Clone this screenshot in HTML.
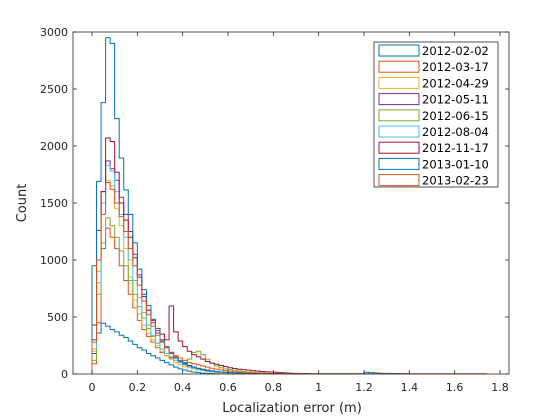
<!DOCTYPE html>
<html><head><meta charset="utf-8"><style>
body{margin:0;background:#fff;}
svg{display:block;font-family:"DejaVu Sans","Liberation Sans",sans-serif;}
</style></head><body>
<svg id="chart" width="560" height="420">
<rect x="0" y="0" width="560" height="420" fill="#fff"/>
<g id="plot"></g>
<rect x="73" y="32" width="436" height="342" fill="none" stroke="#262626" stroke-width="0.8"/>
<g id="axes"></g>
<text x="292" y="412" text-anchor="middle" font-size="13" fill="#262626">Localization error (m)</text>
<text transform="translate(26,203) rotate(-90)" text-anchor="middle" font-size="13" fill="#262626">Count</text>
<g id="legend"></g>
</svg>
<script>
const labels=["2012-02-02","2012-03-17","2012-04-29","2012-05-11","2012-06-15","2012-08-04","2012-11-17","2013-01-10","2013-02-23"];
const colors=["#0072BD","#D95319","#EDB120","#7E2F8E","#77AC30","#4DBEEE","#A2142F","#0072BD","#D95319"];
const binWidth=0.02;
const s1=[180,360,445,420,390,370,340,320,290,260,230,210,180,160,140,120,100,80,60,45,35,25,18,12,8,5,3,2];
const s2=[90,450,1100,1280,1200,1100,950,820,700,580,470,390,330,280,230,190,160,140,120,100,85,70,60,50,42,35,28,22,18,14,10,8,6,5,4,3];
const s3=[200,900,1500,1700,1650,1450,1300,1100,850,650,530,430,360,300,250,200,160,130,100,80,65,55,45,35,28,22,17,13,10,8,6,4];
const s4=[300,1000,1600,1870,1800,1700,1550,1400,1250,1050,870,700,560,450,360,290,230,180,140,110,90,75,60,48,38,30,24,20,16,12,10,8,6,5,4,3];
const s5=[120,700,1150,1370,1300,1200,1080,950,820,700,590,490,400,330,270,220,180,150,120,105,100,130,190,200,170,130,95,70,55,45,38,32,26,22,18,15,12,10,8,6,5,4];
const s6=[220,800,1500,1830,1780,1600,1400,1200,1000,820,670,540,430,340,270,220,180,150,120,100,80,65,52,42,34,27,22,18,14,11,9,7,5,4];
const s7=[430,1260,1600,2070,2040,1770,1500,1350,1200,1020,850,680,560,470,400,350,300,596,370,290,240,200,170,150,130,110,95,85,75,65,55,48,42,38,34,30,26,22,20,18,15,12,10,8,6,5,4,3];
const s8=[950,1690,2380,2950,2900,2240,1895,1615,1400,1150,920,740,600,480,380,300,240,190,150,120,95,75,60,48,40,32,26,22,18,15,12,10,9,8,7,6,5,5,4,4,3,3,3,2,2,2,2,2,2,2,2,2,2,2,2,2,2,2,2,2,15,12,10,8,6,5,4,4,3,2];
const s9=[280,1000,1400,1680,1620,1500,1380,1250,1100,950,780,640,520,420,340,280,230,190,160,140,120,100,90,80,70,60,50,42,36,30,25,20,16,12,10,8,6,5,4,3,3,2,2,2,2,2,2,2,2,2,2,2,2,2,2,2,2,2,2,2,2,2,2,2,2,2,2,2,2,2,2,2,2,2,2,2,2,2,2,2,2,2,2,2,2,2,2];
const series=[s1,s2,s3,s4,s5,s6,s7,s8,s9];
const xTicks=[0,0.2,0.4,0.6,0.8,1,1.2,1.4,1.6,1.8];
const xTickLabels=["0","0.2","0.4","0.6","0.8","1","1.2","1.4","1.6","1.8"];
const yTicks=[0,500,1000,1500,2000,2500,3000];

const NS="http://www.w3.org/2000/svg";
const X=v=>92+v*(408/1.8);
const Y=v=>374-v*(342/3000);
const plot=document.getElementById('plot');
series.forEach((d,i)=>{
  let p="M"+X(0)+","+Y(0);
  d.forEach((v,k)=>{p+=" L"+X(k*binWidth)+","+Y(v)+" L"+X((k+1)*binWidth)+","+Y(v);});
  p+=" L"+X(d.length*binWidth)+","+Y(0);
  const el=document.createElementNS(NS,'path');
  el.setAttribute('d',p);el.setAttribute('fill','none');el.setAttribute('stroke',colors[i]);el.setAttribute('stroke-width','1');
  
  
  plot.appendChild(el);
});
const axes=document.getElementById('axes');
function line(x1,y1,x2,y2,name){const l=document.createElementNS(NS,'line');l.setAttribute('x1',x1);l.setAttribute('y1',y1);l.setAttribute('x2',x2);l.setAttribute('y2',y2);l.setAttribute('stroke','#262626');l.setAttribute('stroke-width','0.8');


axes.appendChild(l);}
function text(x,y,s,anchor,name){const t=document.createElementNS(NS,'text');t.setAttribute('x',x);t.setAttribute('y',y);t.setAttribute('text-anchor',anchor);t.setAttribute('font-size','11');t.setAttribute('fill','#262626');t.textContent=s;


axes.appendChild(t);}
xTicks.forEach((v,i)=>{const x=X(v);line(x,374,x,370,'x-tick');line(x,32,x,36,'x-tick-top');text(x,391,xTickLabels[i],'middle','x-tick-label');});
yTicks.forEach(v=>{const y=Y(v);line(73,y,77,y,'y-tick');line(509,y,505,y,'y-tick-right');text(68,y+4,String(v),'end','y-tick-label');});
const lg=document.getElementById('legend');
const box=document.createElementNS(NS,'rect');
box.setAttribute('x',374);box.setAttribute('y',42);box.setAttribute('width',124);box.setAttribute('height',145);box.setAttribute('fill','#fff');box.setAttribute('stroke','#262626');box.setAttribute('stroke-width','0.8');


lg.appendChild(box);
labels.forEach((s,i)=>{
  const y=50+i*16.2;
  const r=document.createElementNS(NS,'rect');
  r.setAttribute('x',379);r.setAttribute('y',y-5);r.setAttribute('width',40);r.setAttribute('height',11);r.setAttribute('fill','none');r.setAttribute('stroke',colors[i]);r.setAttribute('stroke-width','1');
  
  
  lg.appendChild(r);
  const t=document.createElementNS(NS,'text');
  t.setAttribute('x',422);t.setAttribute('y',y+5);t.setAttribute('font-size','11.5');t.setAttribute('fill','#000');t.textContent=s;
  
  
  lg.appendChild(t);
});
</script>
</body></html>
